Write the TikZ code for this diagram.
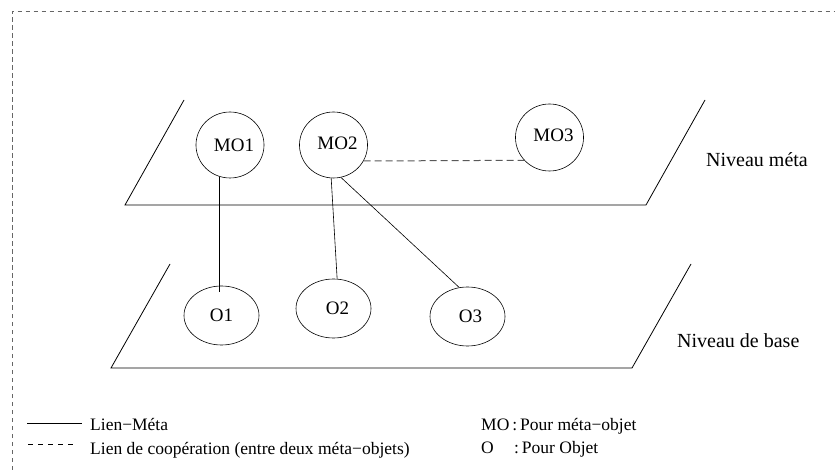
\documentclass[tikz,border=0pt]{standalone}
\usepackage{fontspec}
\setmainfont{Liberation Serif}
\usetikzlibrary{shapes.geometric}
\begin{document}
\begin{tikzpicture}[x=1pt,y=-1pt,
  obj/.style={draw,ellipse,line width=0.6pt,inner sep=0pt,font=\fontsize{19}{22}\selectfont},
  plane/.style={line width=0.8pt},
  metalink/.style={line width=0.6pt},
  cooplink/.style={line width=1pt,draw=black!65,dash pattern=on 7pt off 4pt},
  frame/.style={line width=0.7pt,draw=black!60,dash pattern=on 4.5pt off 3.5pt},
  lbl/.style={anchor=base west,inner sep=0pt,font=\fontsize{20}{24}\selectfont},
  leg/.style={anchor=base west,inner sep=0pt,font=\fontsize{17.5}{21}\selectfont}]
\useasboundingbox (0,0) rectangle (835,470);
% frame
\draw[frame] (12.5,470) -- (12.5,11) -- (835,11);
% planes
\draw[plane] (184,100) -- (125,205) -- (646,205) -- (705,100);
\draw[plane] (170,264) -- (111,368) -- (632,368) -- (691,264);
\node[lbl] (nm) at (706,167) {Niveau méta};
\node[lbl] (nb) at (677,347) {Niveau de base};
% objects
\node[obj,minimum width=67pt,minimum height=66pt] (MO1) at (230,145) {\hspace*{8pt}MO1};
\node[obj,minimum width=67pt,minimum height=66pt] (MO2) at (333.5,145) {\hspace*{8pt}MO2\vphantom{g}};
\node[obj,minimum width=67pt,minimum height=67pt] (MO3) at (549.5,137.5) {\hspace*{8pt}MO3\raisebox{0pt}{\vphantom{g}}};
\node[obj,minimum width=75pt,minimum height=59pt] (O1) at (221.5,315.5) {\raisebox{-3pt}{O1}};
\node[obj,minimum width=75pt,minimum height=59pt] (O2) at (333.5,308.5) {\hspace*{8pt}O2};
\node[obj,minimum width=75pt,minimum height=59pt] (O3) at (467.5,316.5) {\hspace*{6pt}\raisebox{-3pt}{O3}};
% links
\draw[metalink] (MO1.251) -- (MO1.251 |- O1.north) -- ++(0,6);
\draw[metalink] (MO2.266) -- (O2.83);
\draw[metalink] (MO2.283) -- (O3.106);
\draw[cooplink] (MO2.-28) -- (MO3.222);
% legend
\coordinate (s1) at (27,423);
\coordinate (s2) at (82,423);
\draw[metalink] (s1) -- (s2);
\node[leg] (l1) at (90,430) {Lien−Méta};
\coordinate (d1) at (28,444);
\coordinate (d2) at (76,444);
\draw[line width=0.6pt,dash pattern=on 5pt off 5pt] (d1) -- (d2);
\node[leg] (l2) at (90,454) {Lien de coopération (entre deux méta−objets)};
\node[leg] (m1) at (481,430) {MO\,:\,Pour méta−objet};
\node[leg] (m2) at (481,453) {O};
\node[leg] (m3) at (514,453) {:\,Pour Objet};
\end{tikzpicture}
\end{document}
